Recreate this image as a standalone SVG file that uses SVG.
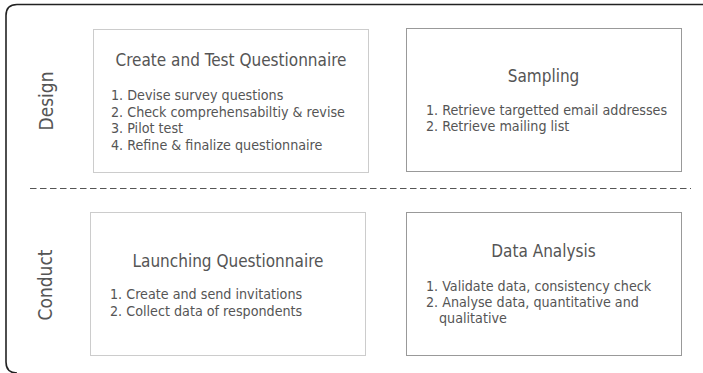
<svg xmlns="http://www.w3.org/2000/svg" width="703" height="373" viewBox="0 0 703 373">
<style>
  text { font-family: "DejaVu Sans Condensed", "DejaVu Sans", sans-serif; fill: #555; }
  .title { font-size: 17px; text-anchor: middle; }
  .item { font-size: 14.2px; }
  .lane { font-size: 19px; text-anchor: middle; }
  .boxA { fill: #fff; stroke: #ccc; stroke-width: 1; }
  .boxB { fill: #fff; stroke: #999; stroke-width: 1; }
</style>
<rect width="703" height="373" fill="#fff"/>
<g id="frame">
  <path d="M 703 4.5 L 17 4.5 Q 6 4.5 6 15.5 L 6 362 Q 6 373 17 373" fill="none" stroke="#222" stroke-width="1.6"/>
</g>
<g id="connectors">
  <line x1="30" y1="188.5" x2="691" y2="188.5" stroke="#555" stroke-width="1.2" stroke-dasharray="6.5,3.5"/>
</g>
<g id="lane-design">
  <text class="lane" transform="translate(53,101) rotate(-90)">Design</text>
</g>
<g id="lane-conduct">
  <text class="lane" transform="translate(52,285) rotate(-90)">Conduct</text>
</g>
<g id="create-test">
  <rect class="boxA" x="93.5" y="29.5" width="275" height="143"/>
  <text class="title" x="231" y="66">Create and Test Questionnaire</text>
  <text class="item" x="111" y="100">1. Devise survey questions</text>
  <text class="item" x="111" y="117">2. Check comprehensabiltiy &amp; revise</text>
  <text class="item" x="111" y="133">3. Pilot test</text>
  <text class="item" x="111" y="150">4. Refine &amp; finalize questionnaire</text>
</g>
<g id="sampling">
  <rect class="boxB" x="406.5" y="28.5" width="275" height="143"/>
  <text class="title" x="543.5" y="82">Sampling</text>
  <text class="item" x="426" y="115">1. Retrieve targetted email addresses</text>
  <text class="item" x="426" y="131">2. Retrieve mailing list</text>
</g>
<g id="launching">
  <rect class="boxA" x="90.5" y="212.5" width="275" height="143"/>
  <text class="title" x="228" y="267">Launching Questionnaire</text>
  <text class="item" x="110" y="299">1. Create and send invitations</text>
  <text class="item" x="110" y="316">2. Collect data of respondents</text>
</g>
<g id="data-analysis">
  <rect class="boxB" x="406.5" y="212.5" width="275" height="143"/>
  <text class="title" x="543.5" y="257">Data Analysis</text>
  <text class="item" x="426" y="291">1. Validate data, consistency check</text>
  <text class="item" x="426" y="307">2. Analyse data, quantitative and</text>
  <text class="item" x="439" y="323">qualitative</text>
</g>
</svg>
